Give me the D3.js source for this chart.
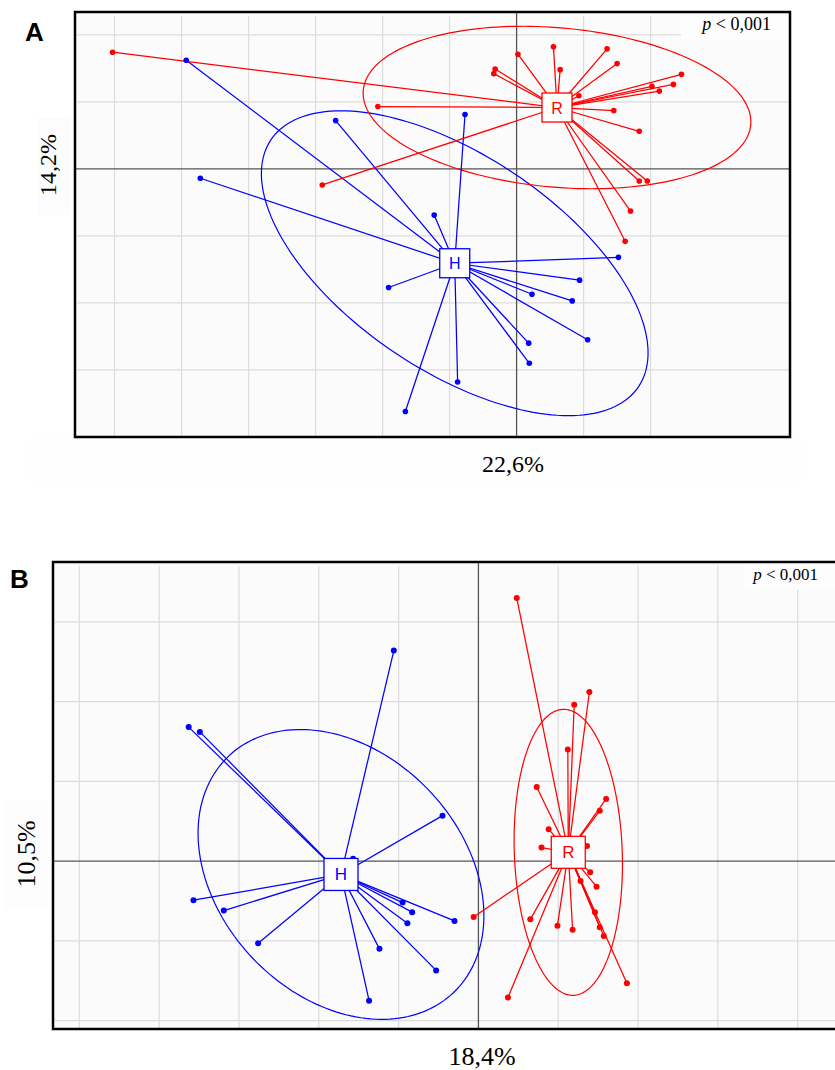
<!DOCTYPE html>
<html>
<head>
<meta charset="utf-8">
<script src="https://cdn.jsdelivr.net/npm/d3@7"></script>
<style>
  body { margin: 0; background: #ffffff; }
  svg { display: block; }
</style>
</head>
<body>
<svg id="chart" width="835" height="1070"></svg>
<script>
// ---- Panel A: ordination scores (axis 1 = 22,6 %, axis 2 = 14,2 %) ----
const groups = ["H", "R"];
const groupColors = ["#0000ff", "#ff0000"];

const scoresA_H = [
  [-4.93, 1.62], [-2.70, 0.72], [-4.72, -0.14], [-0.77, 0.81], [-1.23, -0.69],
  [-1.91, -1.77], [0.94, -1.66], [0.23, -1.87], [0.83, -1.97], [1.06, -2.55],
  [0.18, -2.60], [0.19, -2.90], [-0.88, -3.18], [-1.66, -3.62], [1.52, -1.32]
];
const scoresA_R = [
  [0.02, 1.71], [0.55, 1.82], [0.65, 1.48], [1.35, 1.79], [1.50, 1.57],
  [-0.32, 1.49], [-0.34, 1.42], [0.93, 1.09], [2.46, 1.41], [2.02, 1.23],
  [2.34, 1.26], [2.13, 1.16], [1.45, 0.87], [1.83, 0.56], [1.83, -0.18],
  [1.95, -0.18], [1.70, -0.63], [1.62, -1.08], [-2.07, 0.93], [-6.03, 1.74],
  [-2.90, -0.24], [0.61, 0.93], [0.59, 0.90]
];
const gridA_x = [-6, -5, -4, -3, -2, -1, 0, 1, 2];
const gridA_y = [-3, -2, -1, 0, 1, 2];
const axisLabelsA = ["22,6%", "14,2%"];

// ---- Panel B: ordination scores (axis 1 = 18,4 %, axis 2 = 10,5 %) ----
const scoresB_H = [
  [-3.63, 1.68], [-3.49, 1.62], [-1.06, 2.64], [-0.45, 0.57], [-3.57, -0.49],
  [-3.19, -0.62], [-2.76, -1.03], [-0.95, -0.52], [-0.83, -0.64], [-0.89, -0.78],
  [-0.30, -0.75], [-1.24, -1.10], [-0.53, -1.37], [-1.37, -1.75], [-1.57, 0.03]
];
const scoresB_R = [
  [0.48, 3.30], [1.39, 2.12], [1.20, 1.96], [1.12, 1.40], [0.73, 0.93],
  [1.60, 0.78], [1.52, 0.63], [0.88, 0.40], [0.79, 0.17], [1.36, 0.19],
  [1.40, -0.14], [1.28, -0.25], [1.48, -0.32], [1.46, -0.64], [1.52, -0.83],
  [1.57, -0.94], [0.65, -0.73], [0.99, -0.81], [1.18, -0.86], [1.86, -1.53],
  [0.37, -1.71], [-0.06, -0.70], [1.12, 0.11]
];
const gridB_x = [-5, -4, -3, -2, -1, 0, 1, 2, 3, 4];
const gridB_y = [-2, -1, 0, 1, 2, 3];
const axisLabelsB = ["18,4%", "10,5%"];

const pLabel = "< 0,001";

// ---- drawing ----
const svg = d3.select("#chart");
const ELLIPSE_SCALE = 1.5;

function ellipseRing(pts, c) {
  const mx = d3.mean(pts, d => d[0]);
  const my = d3.mean(pts, d => d[1]);
  const vx = d3.mean(pts, d => (d[0] - mx) ** 2);
  const vy = d3.mean(pts, d => (d[1] - my) ** 2);
  const cxy = d3.mean(pts, d => (d[0] - mx) * (d[1] - my));
  const sx = Math.sqrt(vx), sy = Math.sqrt(vy);
  const r = cxy / (sx * sy);
  const q = Math.sqrt(1 - r * r);
  return d3.range(0, 360, 2).map(a => {
    const t = a * Math.PI / 180;
    return [mx + c * sx * Math.cos(t), my + c * sy * (r * Math.cos(t) + q * Math.sin(t))];
  });
}

function drawPanel(cfg) {
  const g = svg.append("g");
  const x = d3.scaleLinear().domain(cfg.xDomain).range([cfg.left, cfg.right]);
  const y = d3.scaleLinear().domain(cfg.yDomain).range([cfg.bottom, cfg.top]);

  // background
  g.append("rect")
    .attr("x", cfg.left).attr("y", cfg.top)
    .attr("width", cfg.right - cfg.left).attr("height", cfg.bottom - cfg.top)
    .attr("fill", "#fbfbfb");

  // grid
  g.append("g").selectAll("line").data(cfg.gridX.filter(v => v !== 0)).join("line")
    .attr("x1", d => x(d)).attr("x2", d => x(d))
    .attr("y1", cfg.top + 4).attr("y2", cfg.bottom)
    .attr("stroke", "#dcdcdc").attr("stroke-width", 1.2);
  g.append("g").selectAll("line").data(cfg.gridY.filter(v => v !== 0)).join("line")
    .attr("y1", d => y(d)).attr("y2", d => y(d))
    .attr("x1", cfg.left + 2).attr("x2", cfg.right)
    .attr("stroke", "#dcdcdc").attr("stroke-width", 1.2);

  // p-value label area
  g.append("rect")
    .attr("x", cfg.pBox[0]).attr("y", cfg.top)
    .attr("width", cfg.right - cfg.pBox[0]).attr("height", cfg.pBox[1] - cfg.top)
    .attr("fill", "#fdfdfd");

  // zero axes
  g.append("line")
    .attr("x1", x(0)).attr("x2", x(0)).attr("y1", cfg.top).attr("y2", cfg.bottom)
    .attr("stroke", "#555").attr("stroke-width", 1.3);
  g.append("line")
    .attr("y1", y(0)).attr("y2", y(0)).attr("x1", cfg.left).attr("x2", cfg.right)
    .attr("stroke", "#555").attr("stroke-width", 1.3);

  const line = d3.line().x(d => x(d[0])).y(d => y(d[1])).curve(d3.curveLinearClosed);

  cfg.series.forEach((pts, i) => {
    const col = groupColors[i];
    g.append("path")
      .attr("d", line(ellipseRing(pts, ELLIPSE_SCALE)))
      .attr("fill", "none").attr("stroke", col).attr("stroke-width", 1.2);
  });

  const centroids = cfg.series.map(pts => [d3.mean(pts, d => d[0]), d3.mean(pts, d => d[1])]);

  cfg.series.forEach((pts, i) => {
    const col = groupColors[i];
    const c = centroids[i];
    g.append("g").selectAll("line").data(pts).join("line")
      .attr("x1", x(c[0])).attr("y1", y(c[1]))
      .attr("x2", d => x(d[0])).attr("y2", d => y(d[1]))
      .attr("stroke", col).attr("stroke-width", 1.25);
  });
  cfg.series.forEach((pts, i) => {
    const col = groupColors[i];
    g.append("g").selectAll("circle").data(pts).join("circle")
      .attr("cx", d => x(d[0])).attr("cy", d => y(d[1]))
      .attr("r", cfg.pointR).attr("fill", col);
  });

  // group labels at centroids
  cfg.series.forEach((pts, i) => {
    const col = groupColors[i];
    const c = centroids[i];
    const bw = cfg.box[0], bh = cfg.box[1];
    g.append("rect")
      .attr("x", x(c[0]) - bw / 2).attr("y", y(c[1]) - bh / 2)
      .attr("width", bw).attr("height", bh)
      .attr("fill", "#ffffff").attr("stroke", col).attr("stroke-width", 1.3);
    g.append("text")
      .attr("x", x(c[0])).attr("y", y(c[1]) + 6)
      .attr("text-anchor", "middle")
      .attr("font-family", "'Liberation Sans', Arial, sans-serif")
      .attr("font-size", cfg.boxFont)
      .attr("fill", col)
      .text(groups[i]);
  });

  // frame
  g.append("rect")
    .attr("x", cfg.left).attr("y", cfg.top)
    .attr("width", cfg.right - cfg.left).attr("height", cfg.bottom - cfg.top)
    .attr("fill", "none").attr("stroke", "#000").attr("stroke-width", 2.5);

  // p-value
  const pt = g.append("text")
    .attr("x", cfg.pPos[0]).attr("y", cfg.pPos[1])
    .attr("text-anchor", "end")
    .attr("font-family", "'Liberation Serif', 'Times New Roman', serif")
    .attr("font-size", cfg.pFont).attr("fill", "#000");
  pt.append("tspan").attr("font-style", "italic").text("p");
  pt.append("tspan").text(" " + pLabel);

  // axis titles
  g.append("text")
    .attr("x", cfg.xLabelPos[0]).attr("y", cfg.xLabelPos[1])
    .attr("text-anchor", "middle")
    .attr("font-family", "'Liberation Serif', 'Times New Roman', serif")
    .attr("font-size", cfg.labelFont).attr("fill", "#000")
    .text(cfg.axisLabels[0]);
  g.append("text")
    .attr("transform", `translate(${cfg.yLabelPos[0]},${cfg.yLabelPos[1]}) rotate(-90)`)
    .attr("text-anchor", "middle")
    .attr("font-family", "'Liberation Serif', 'Times New Roman', serif")
    .attr("font-size", cfg.labelFont).attr("fill", "#000")
    .text(cfg.axisLabels[1]);

  // panel letter
  g.append("text")
    .attr("x", cfg.letterPos[0]).attr("y", cfg.letterPos[1])
    .attr("font-family", "'Liberation Sans', Arial, sans-serif")
    .attr("font-weight", "bold").attr("font-size", 26).attr("fill", "#000")
    .text(cfg.letter);
}

// faint label backdrops
svg.append("rect").attr("x", 37).attr("y", 118).attr("width", 32).attr("height", 97).attr("fill", "#fcfcfc");
svg.append("rect").attr("x", 28).attr("y", 438).attr("width", 774).attr("height", 44).attr("fill", "#fefefe");
svg.append("rect").attr("x", 4).attr("y", 800).attr("width", 46).attr("height", 110).attr("fill", "#fdfdfd");

drawPanel({
  letter: "A", letterPos: [25, 41],
  left: 75, right: 790, top: 12, bottom: 437,
  xDomain: [-6.59, 4.08], yDomain: [-4.0, 2.34],
  gridX: gridA_x, gridY: gridA_y,
  series: [scoresA_H, scoresA_R],
  pointR: 2.8, box: [30, 29], boxFont: 16,
  pBox: [681, 40], pPos: [771, 30], pFont: 18,
  axisLabels: axisLabelsA, labelFont: 24,
  xLabelPos: [513, 472], yLabelPos: [56, 165]
});

drawPanel({
  letter: "B", letterPos: [10, 588],
  left: 53, right: 840, top: 562, bottom: 1029,
  xDomain: [-5.33, 4.53], yDomain: [-2.105, 3.75],
  gridX: gridB_x, gridY: gridB_y,
  series: [scoresB_H, scoresB_R],
  pointR: 3.0, box: [34, 32], boxFont: 17,
  pBox: [745, 590], pPos: [818, 580], pFont: 17,
  axisLabels: axisLabelsB, labelFont: 26,
  xLabelPos: [482, 1065], yLabelPos: [35, 854]
});
</script>
</body>
</html>
